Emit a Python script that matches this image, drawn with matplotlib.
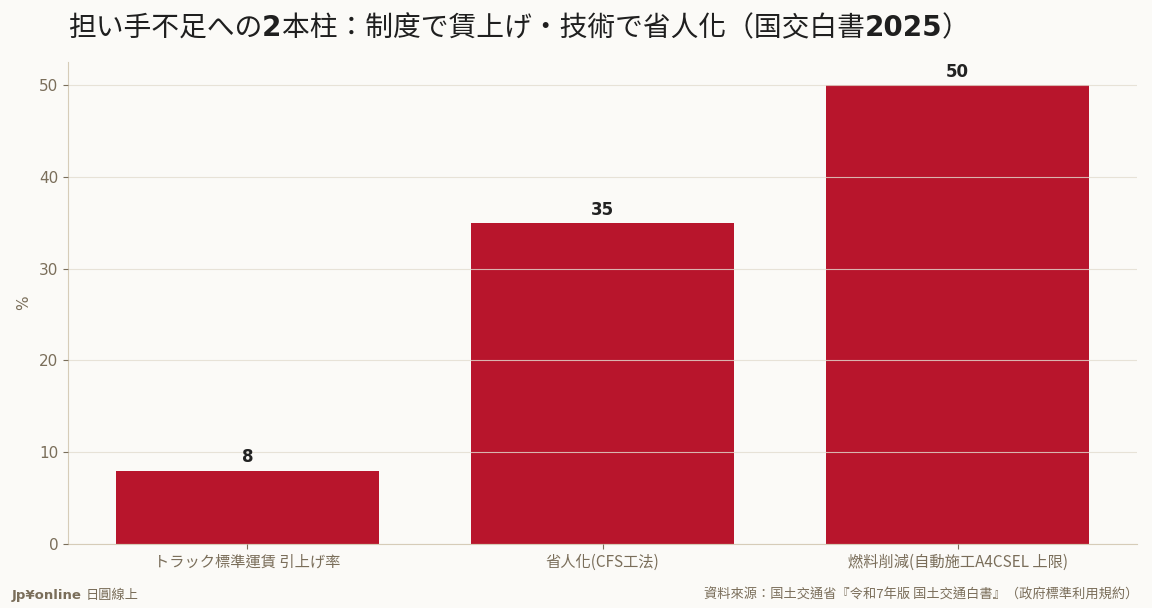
import matplotlib
matplotlib.use("Agg")
import matplotlib.pyplot as plt

categories = ["トラック標準運賃 引上げ率", "省人化(CFS工法)", "燃料削減(自動施工A4CSEL 上限)"]
values = [8, 35, 50]

# title pieces: (text, weight)
title_runs = [("担い手不足への", "normal"), ("2", "bold"),
              ("本柱：制度で賃上げ・技術で省人化（国交白書", "normal"),
              ("2025", "bold"), ("）", "normal")]
source = "資料來源：国土交通省『令和7年版 国土交通白書』（政府標準利用規約）"

bg = "#FBFAF7"
bar_color = "#B8152C"
text_color = "#7A6E5A"
grid_color = "#E3DDD0"
cjk = ['Noto Sans CJK TC', 'DejaVu Sans']

plt.rcParams['font.family'] = ['DejaVu Sans', 'Noto Sans CJK TC']

fig = plt.figure(figsize=(11.52, 6.08), dpi=100, facecolor=bg)
ax = fig.add_axes([68/1152, 1-544/608, (1137-68)/1152, (544-62)/608])
ax.set_facecolor(bg)

x = range(len(categories))
bars = ax.bar(x, values, width=0.74, color=bar_color, zorder=1)
for xi, v in zip(x, values):
    ax.text(xi, v + 0.45, str(v), ha='center', va='bottom', fontsize=12,
            fontweight='bold', color='#222222')

ax.set_xlim(-0.505, 2.505)
ax.set_ylim(0, 52.5)
ax.set_xticks(list(x))
ax.set_xticklabels(categories, fontsize=11, color=text_color, family=cjk)
ax.set_yticks([0, 10, 20, 30, 40, 50])
ax.tick_params(axis='y', labelsize=11, labelcolor=text_color, color=text_color)
ax.tick_params(axis='x', color=text_color)
ax.set_ylabel('%', fontsize=11, color=text_color, labelpad=5.5)

ax.yaxis.grid(True, color=grid_color, linewidth=0.8, alpha=0.8, zorder=2)
ax.set_axisbelow(False)
for s in ['top', 'right']:
    ax.spines[s].set_visible(False)
for s in ['left', 'bottom']:
    ax.spines[s].set_color('#D6CCB8')

# title drawn run by run: regular CJK, bold digits
renderer = fig.canvas.get_renderer()
tx = 68
for txt, w in title_runs:
    fam = ['DejaVu Sans'] if w == "bold" else cjk
    t = fig.text(tx/1152, 1-28/608, txt, fontsize=20, fontweight=w, color='#1F1F1F',
                 ha='left', va='center', family=fam)
    tx += t.get_window_extent(renderer).width

fig.text(12/1152, 1-595/608, "Jp¥online", fontsize=9.5, fontweight='bold',
         color=text_color, ha='left', va='center')
fig.text(86/1152, 1-595/608, "日圓線上", fontsize=9.5, color=text_color,
         ha='left', va='center', family=cjk)
fig.text(1138/1152, 1-595/608, source, fontsize=9.5, color=text_color,
         ha='right', va='center', family=cjk)

fig.savefig("out.png", dpi=100, facecolor=bg)
